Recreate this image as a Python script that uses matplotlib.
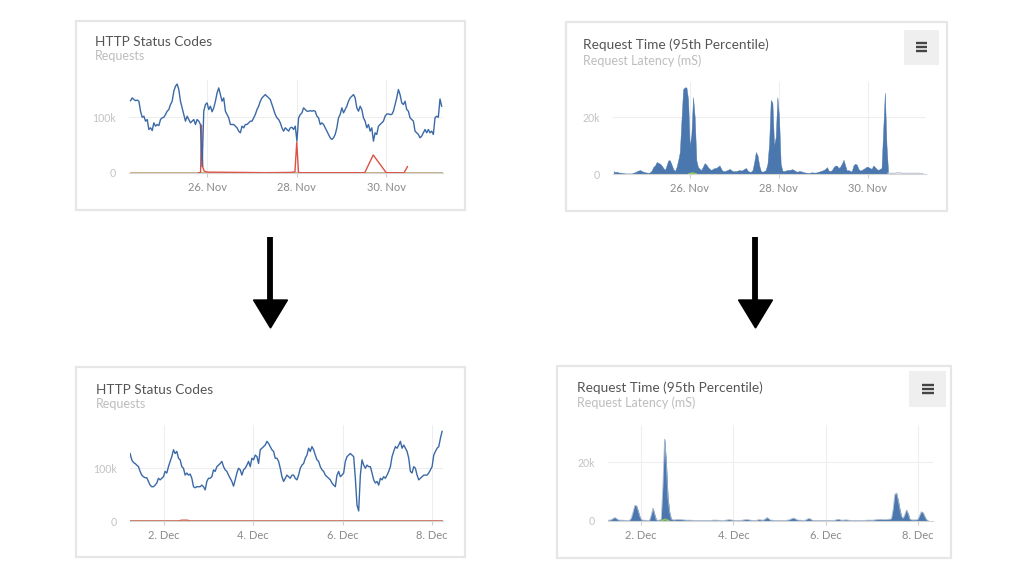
import numpy as np
import matplotlib.pyplot as plt
from matplotlib.patches import Rectangle, Polygon

plt.rcParams['font.family'] = ['Lato', 'DejaVu Sans']

W, H = 1020, 585

# ---------------- data ----------------
# top row covers 24 Nov ~07:00 .. 1 Dec ~05:40 (x = day of November)
# bottom row covers 1 Dec ~06:00 .. 8 Dec ~05:30 (x = day of December)

# requests (thousands), sampled about every 54 min
req_top = [130, 135, 132, 130, 131, 129, 111, 100, 102, 93, 96, 78, 81, 76, 90, 84, 87, 85, 96, 99,
           100, 105, 111, 114, 123, 129, 147, 156, 160, 150, 129, 117, 105, 93, 102, 96, 90, 93, 96, 87,
           96, 93, 87, 11, 111, 123, 126, 114, 120, 110, 117, 129, 144, 153, 141, 129, 135, 111, 105, 99,
           87, 87, 87, 84, 81, 75, 72, 84, 81, 87, 87, 90, 93, 93, 99, 105, 114, 120, 129, 135,
           138, 141, 138, 135, 132, 123, 114, 105, 99, 96, 90, 81, 75, 81, 78, 75, 81, 82, 78, 84,
           57, 99, 105, 108, 117, 114, 111, 111, 112, 111, 112, 111, 102, 99, 87, 90, 87, 81, 75, 69,
           63, 60, 63, 69, 81, 99, 105, 117, 108, 114, 120, 129, 135, 138, 141, 135, 117, 111, 120, 114,
           99, 93, 81, 87, 75, 81, 57, 72, 69, 84, 87, 90, 93, 102, 106, 106, 105, 105, 111, 123,
           135, 150, 141, 126, 123, 129, 114, 111, 99, 96, 93, 75, 72, 69, 63, 66, 72, 78, 72, 78,
           72, 75, 69, 99, 102, 100, 133, 120]
req_top_span = (24.285, 31.24)

# 5xx errors (thousands), sparse points
err_top_x = [25.80, 25.85, 25.87, 25.90, 25.93, 26.00, 26.78, 27.30, 27.86, 27.96, 28.00, 28.04,
             29.52, 29.71, 30.00, 30.40, 30.475]
err_top_y = [0, 0, 86, 10, 3, 1, 0.5, 0, 0.5, 1.5, 55, 0, 0, 32, 0, 0, 11]

# other status codes, flat at zero
other_top_x = [24.285, 31.24]
other_top_y = [0, 0]

# 95th percentile latency (thousands of ms), same sampling as req_top
lat_top = [1.0, 0.6, 0.8, 0.5, 0.5, 0.4, 0.3, 0.2, 0.2, 0.2, 0.2, 0.2, 0.5, 0.6, 1.0, 1.2, 1.4, 1.0,
           0.8, 0.6, 0.5, 0.4, 0.6, 1.2, 2.5, 3.0, 4.2, 3.9, 3.6, 3.0, 2.1, 1.4, 3.0, 4.8, 4.8, 3.3,
           1.8, 1.0, 2.4, 4.8, 7.7, 19.0, 29.8, 30.4, 30.4, 26.2, 9.5, 14.0, 27.0, 20.0, 4.8, 2.4,
           1.8, 1.4, 2.6, 3.8, 3.3, 2.4, 1.8, 1.4, 1.8, 2.1, 2.1, 2.6, 3.0, 1.8, 1.0, 1.0, 1.2, 1.4,
           1.8, 1.4, 1.0, 1.0, 1.0, 1.2, 1.4, 1.2, 1.4, 1.8, 2.1, 1.2, 0.8, 0.8, 1.4, 4.2, 7.7, 6.5,
           3.0, 1.0, 0.8, 1.0, 1.4, 3.6, 10.7, 26.0, 25.0, 10.0, 13.0, 27.0, 20.0, 3.6, 1.2, 1.0,
           1.2, 1.4, 1.4, 1.5, 1.7, 1.4, 1.0, 0.8, 1.0, 1.0, 0.8, 0.6, 0.5, 0.4, 0.4, 0.5, 0.6, 0.5,
           0.5, 0.6, 0.8, 1.0, 1.2, 1.4, 1.8, 2.4, 1.2, 1.0, 1.4, 2.4, 3.0, 2.9, 2.1, 2.6, 3.6, 5.0,
           3.0, 1.2, 1.4, 1.0, 1.0, 3.0, 3.6, 3.3, 1.8, 1.2, 1.4, 1.8, 2.1, 2.6, 2.4, 2.1, 1.8, 3.0,
           2.4, 1.8, 1.4, 1.8, 2.1, 15.5, 28.6, 10.0, 0.3]
lat_top_tail = [0.3, 0.2, 0.2, 0.2, 0.2, 0.3, 0.5, 0.4, 0.3, 0.2, 0.2, 0.2, 0.2, 0.2, 0.2, 0.2,
                0.2, 0.2, 0.2, 0.2, 0.1, 0.1]
lat_top_green_x = [25.98, 26.06, 26.14]
lat_top_green_y = [0, 0.35, 0]

req_bot = [128, 116, 111, 109, 106, 103, 94, 87, 84, 82, 82, 75, 68, 65, 65, 68, 72, 81, 78, 81,
           84, 94, 91, 103, 113, 122, 135, 128, 132, 119, 116, 103, 100, 87, 91, 87, 89, 81, 65, 63,
           65, 65, 65, 68, 65, 59, 75, 81, 81, 84, 97, 94, 103, 106, 109, 113, 103, 97, 94, 87,
           81, 75, 66, 78, 91, 100, 97, 87, 97, 100, 106, 113, 103, 119, 116, 125, 122, 109, 135, 138,
           141, 144, 151, 147, 141, 135, 132, 119, 119, 113, 100, 84, 75, 81, 87, 84, 81, 87, 87, 81,
           78, 87, 100, 106, 109, 119, 125, 138, 132, 141, 135, 125, 116, 113, 103, 97, 94, 87, 84, 81,
           78, 72, 68, 65, 87, 94, 84, 87, 91, 113, 122, 125, 128, 125, 122, 81, 30, 19, 87, 116,
           106, 100, 106, 103, 103, 91, 78, 72, 75, 68, 81, 78, 84, 81, 87, 94, 103, 122, 132, 141,
           138, 144, 151, 138, 144, 138, 132, 119, 94, 91, 103, 100, 87, 78, 81, 84, 87, 87, 87, 91,
           97, 103, 125, 132, 138, 141, 157, 170]
req_bot_span = (1.24, 8.23)

err_bot_x = [1.24, 2.32, 2.40, 2.52, 2.60, 8.23]
err_bot_y = [0, 0, 1.8, 1.8, 0, 0]
other_bot_x = [1.24, 8.23]
other_bot_y = [0, 0]

lat_bot = [0.2, 0.2, 0.4, 0.8, 1.1, 0.7, 0.3, 0.2, 0.2, 0.2, 0.1, 0.1, 0.1, 0.2, 1.0, 3.0, 5.2, 5.2,
           3.5, 1.5, 0.3, 0.2, 0.2, 0.1, 0.1, 0.2, 2.0, 4.3, 2.2, 0.3, 0.2, 0.2, 0.5, 12.0, 28.0, 20.0,
           8.0, 3.0, 0.6, 0.3, 0.3, 0.4, 0.4, 0.4, 0.4, 0.3, 0.3, 0.2, 0.2, 0.2, 0.2, 0.1, 0.1, 0.1,
           0.1, 0.1, 0.1, 0.1, 0.1, 0.1, 0.1, 0.1, 0.1, 0.2, 0.2, 0.2, 0.2, 0.1, 0.1, 0.1, 0.1, 0.2,
           0.3, 0.4, 0.3, 0.2, 0.1, 0.1, 0.1, 0.1, 0.1, 0.2, 0.3, 0.4, 0.4, 0.3, 0.2, 0.1, 0.1, 0.1,
           0.2, 0.4, 0.3, 0.2, 0.3, 0.7, 1.1, 0.6, 0.2, 0.2, 0.1, 0.1, 0.1, 0.1, 0.1, 0.1, 0.1, 0.1,
           0.2, 0.3, 0.5, 0.8, 0.9, 0.6, 0.3, 0.2, 0.2, 0.1, 0.1, 0.2, 0.5, 0.8, 0.6, 0.2, 0.1, 0.1,
           0.1, 0.1, 0.1, 0.1, 0.1, 0.1, 0.1, 0.1, 0.1, 0.1, 0.1, 0.2, 0.4, 0.5, 0.3, 0.2, 0.2, 0.3,
           0.3, 0.2, 0.1, 0.1, 0.1, 0.1, 0.1, 0.1, 0.1, 0.1, 0.1, 0.1, 0.2, 0.2, 0.2, 0.2, 0.2, 0.3,
           0.4, 0.4, 0.5, 0.4, 0.4, 0.4, 0.4, 0.5, 0.5, 0.8, 4.0, 9.0, 9.5, 7.0, 4.0, 1.5, 0.8, 2.0,
           3.7, 2.5, 0.6, 0.3, 0.3, 0.3, 0.3, 0.5, 1.8, 3.1, 2.8, 1.5, 0.4, 0.1]
lat_bot_span = (1.29, 8.21)
lat_bot_green_x = [2.45, 2.52, 2.60]
lat_bot_green_y = [0, 0.45, 0]

top_ticks = [26, 28, 30]
top_labels = ['26. Nov', '28. Nov', '30. Nov']
bot_ticks = [2, 4, 6, 8]
bot_labels = ['2. Dec', '4. Dec', '6. Dec', '8. Dec']

BLUE = '#3b69a6'
FILL = '#4a77ad'
RED = '#dd5145'
TAN = '#c3a77f'
GREEN = '#8fc65a'

# ---------------- figure ----------------
fig = plt.figure(figsize=(W / 100, H / 100), dpi=100)
fig.patch.set_facecolor('white')

bg = fig.add_axes([0, 0, 1, 1], zorder=0)
bg.set_xlim(0, W)
bg.set_ylim(H, 0)
bg.axis('off')

# cards
for x0, y0, x1, y1 in [(76, 21, 465, 210), (566, 22, 947, 211), (76, 367, 465, 557), (557, 366, 951, 558)]:
    bg.add_patch(Rectangle((x0, y0), x1 - x0, y1 - y0, facecolor='white', edgecolor='#e6e6e6', lw=1.6))

# titles
def titles(x, yt, ys, t, s):
    bg.text(x, yt, t, fontsize=9.8, color='#555555', va='baseline')
    bg.text(x, ys, s, fontsize=9.0, color='#bdbdbd', va='baseline')

titles(95, 46, 59.5, 'HTTP Status Codes', 'Requests')
titles(583, 49.3, 65, 'Request Time (95th Percentile)', 'Request Latency (mS)')
titles(96, 393.7, 408.3, 'HTTP Status Codes', 'Requests')
titles(577, 391.7, 406.7, 'Request Time (95th Percentile)', 'Request Latency (mS)')

# menu buttons
def menu(x0, y0, x1, y1, lx0, lx1, ys):
    bg.add_patch(Rectangle((x0, y0), x1 - x0, y1 - y0, facecolor='#efefef', edgecolor='none'))
    for y in ys:
        bg.plot([lx0, lx1], [y, y], color='#444444', lw=1.7, solid_capstyle='butt')

menu(904, 30, 939, 65, 916, 927, [42.8, 46.8, 50.8])
menu(909, 371, 946, 407, 922, 934, [384.5, 388.5, 392.5])

# arrows
for ax_x in [270.5, 755.5]:
    bg.plot([ax_x, ax_x], [237, 302], color='black', lw=4.2, solid_capstyle='butt')
    bg.add_patch(Polygon([[ax_x - 17, 300], [ax_x + 17, 300], [ax_x, 328]], closed=True,
                         facecolor='black', edgecolor='black'))


def px_axes(left, right, top, bottom):
    ax = fig.add_axes([left / W, 1 - bottom / H, (right - left) / W, (bottom - top) / H], zorder=2)
    ax.set_facecolor('none')
    return ax


def style(ax, xlim, ylim, ticks, labels, yticks, ylabels):
    ax.set_xlim(xlim)
    ax.set_ylim(ylim)
    for s in ['top', 'right', 'left']:
        ax.spines[s].set_visible(False)
    ax.spines['bottom'].set_color('#d6d6d6')
    ax.set_xticks(ticks, labels)
    ax.set_yticks(yticks, ylabels)
    ax.tick_params(axis='x', length=3.2, width=0.8, color='#cfcfcf', labelsize=8,
                   labelcolor='#8a8a8a', pad=3.5)
    ax.tick_params(axis='y', length=0, labelsize=7.6, labelcolor='#c2c2c2', pad=9.5)
    ax.grid(True, color='#eeeeee', lw=0.8)
    ax.set_axisbelow(True)


# panel 1: HTTP status codes, Nov
ax1 = px_axes(129, 443, 80, 172.7)
x = np.linspace(req_top_span[0], req_top_span[1], len(req_top))
ax1.plot(other_top_x, other_top_y, color=TAN, lw=1.3)
ax1.plot(err_top_x, err_top_y, color=RED, lw=1.0)
ax1.plot(x, req_top, color=BLUE, lw=1.0)
style(ax1, (24.25, 31.27), (0, 167.3), top_ticks, top_labels, [0, 100], ['0', '100k'])

# panel 2: latency, Nov
ax2 = px_axes(613, 926, 82, 174)
lat_x = x[:len(lat_top)]
tail_x = x[len(lat_top) - 1:]
ax2.fill_between(lat_x, lat_top, color=FILL, lw=0.3, edgecolor=FILL)
ax2.plot(tail_x, lat_top_tail, color='#c5ccd6', lw=1.0)
ax2.plot(lat_top_green_x, lat_top_green_y, color=GREEN, lw=1.2)
style(ax2, (24.27, 31.31), (0, 32.3), top_ticks, top_labels, [0, 20], ['0', '20k'])

# panel 3: HTTP status codes, Dec
ax3 = px_axes(130, 443, 425, 521)
xb = np.linspace(req_bot_span[0], req_bot_span[1], len(req_bot))
ax3.plot(other_bot_x, other_bot_y, color=TAN, lw=1.3)
ax3.plot(err_bot_x, err_bot_y, color=RED, lw=1.0, alpha=0.75)
ax3.plot(xb, req_bot, color=BLUE, lw=1.0)
style(ax3, (1.238, 8.25), (0, 182), bot_ticks, bot_labels, [0, 100], ['0', '100k'])

# panel 4: latency, Dec
ax4 = px_axes(608, 933, 425, 520.7)
xl = np.linspace(lat_bot_span[0], lat_bot_span[1], len(lat_bot))
ax4.fill_between(xl, lat_bot, color=FILL, lw=0.3, edgecolor=FILL)
ax4.plot(xl, lat_bot, color='#a9b8cc', lw=0.5)
ax4.plot(lat_bot_green_x, lat_bot_green_y, color=GREEN, lw=1.2)
style(ax4, (1.286, 8.32), (0, 32.8), bot_ticks, bot_labels, [0, 20], ['0', '20k'])

fig.savefig('out.png', dpi=100, facecolor='white')
